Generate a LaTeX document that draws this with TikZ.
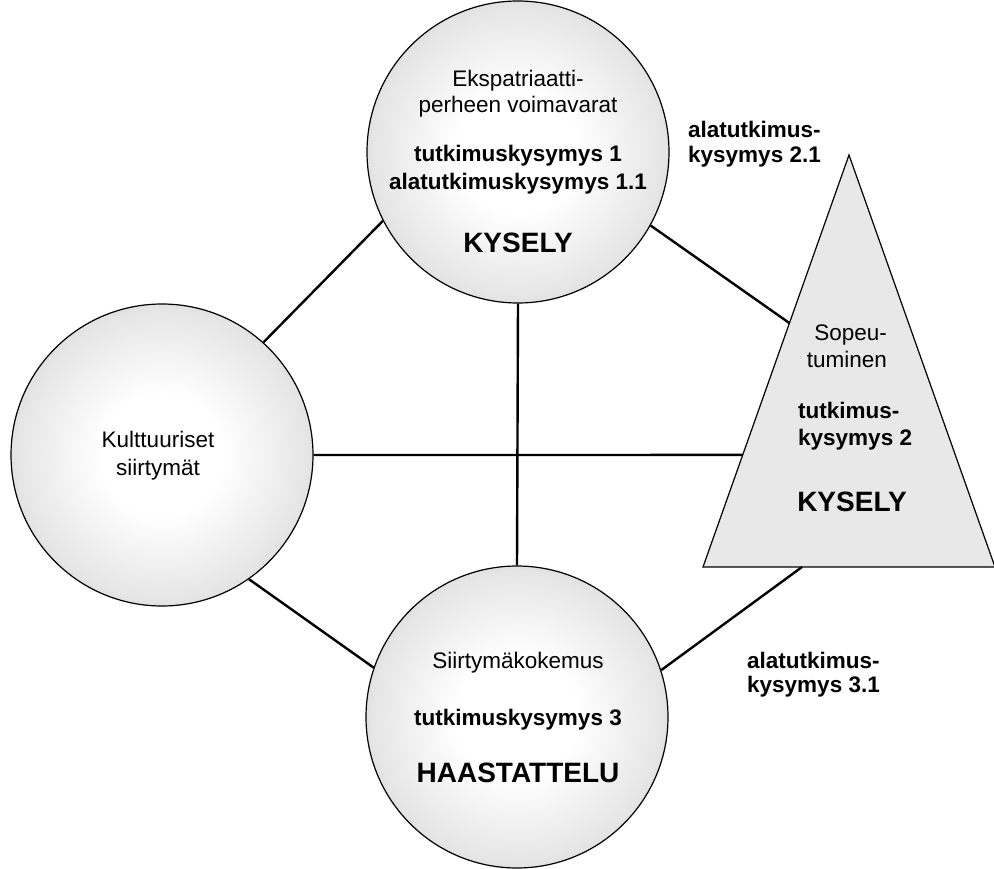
\documentclass[tikz,border=0pt]{standalone}
\usepackage{fontspec}
\setmainfont{Liberation Sans}
\usepackage{tikz}
\usetikzlibrary{calc}

\pgfdeclareradialshading{pallovarjo}{\pgfpoint{0bp}{0bp}}{color(0bp)=(white); color(10bp)=(white); color(24bp)=(black!10); color(31bp)=(black!22); color(35.4bp)=(black!38); color(50bp)=(black!38)}

\tikzset{
  pallo/.style={circle, draw, line width=1.2pt, minimum size=302pt, inner sep=0pt, shading=pallovarjo},
  yhteys/.style={line width=2.4pt},
  teksti/.style={inner sep=0pt, font=\fontsize{22.5}{27}\selectfont},
  lihava/.style={teksti, font=\fontsize{22.5}{27}\selectfont\bfseries},
  iso/.style={inner sep=0pt, font=\fontsize{28}{32}\selectfont\bfseries}
}

\begin{document}
\begin{tikzpicture}[x=1pt,y=-1pt]
\useasboundingbox (0,0) rectangle (994,869);
% pallot
\node [pallo] (voimavarat) at (518,152) {};
\node [pallo] (siirtymat) at (162,455) {};
\node [pallo] (kokemus) at (517,717) {};
% kolmio
\coordinate (sopK) at (849,155);
\coordinate (sopV) at (703,567);
\coordinate (sopO) at (995,567);
\draw [fill=black!9, line width=1.2pt, line join=miter] (sopK) -- (sopV) -- (sopO) -- cycle;
% yhteydet
\draw [yhteys] (voimavarat.207) -- (siirtymat.48);
\draw [yhteys] (voimavarat.331) -- ($(sopK)!0.408!(sopV)$);
\draw [yhteys] (siirtymat.east) -- ($(sopK)!0.728!(sopV)$);
\draw [yhteys] (siirtymat.305) -- (kokemus.161);
\draw [yhteys] (kokemus.18) -- ($(sopV)!0.339!(sopO)$);
\draw [yhteys] (voimavarat.south) -- (kokemus.north);
% tekstit
\node [teksti, anchor=base] (e1) at (518,87) {Ekspatriaatti-};
\node [teksti, anchor=base] (e2) at (518,113) {perheen voimavarat};
\node [lihava, anchor=base] (e3) at (518,162) {tutkimuskysymys 1};
\node [lihava, anchor=base] (e4) at (518,190) {alatutkimuskysymys 1.1};
\node [iso, anchor=base] (e5) at (518,253) {KYSELY};
\node [teksti, anchor=base] (k1) at (158,447) {Kulttuuriset};
\node [teksti, anchor=base] (k2) at (158,475) {siirtymät};
\node [teksti, anchor=base] (s1) at (518,668) {Siirtymäkokemus};
\node [lihava, anchor=base] (s2) at (518,725) {tutkimuskysymys 3};
\node [iso, anchor=base] (s3) at (518,782) {HAASTATTELU};
\node [teksti, anchor=base east] (p1) at (887,340) {Sopeu-};
\node [teksti, anchor=base east] (p2) at (887,367) {tuminen};
\node [lihava, anchor=base west] (p3) at (798,418) {tutkimus-};
\node [lihava, anchor=base west] (p4) at (798,445) {kysymys 2};
\node [iso, anchor=base] (p5) at (852,511) {KYSELY};
\node [lihava, anchor=base west] (a1) at (688,138) {alatutkimus-};
\node [lihava, anchor=base west] (a2) at (688,163) {kysymys 2.1};
\node [lihava, anchor=base west] (b1) at (747,668) {alatutkimus-};
\node [lihava, anchor=base west] (b2) at (747,692) {kysymys 3.1};
\end{tikzpicture}
\end{document}
